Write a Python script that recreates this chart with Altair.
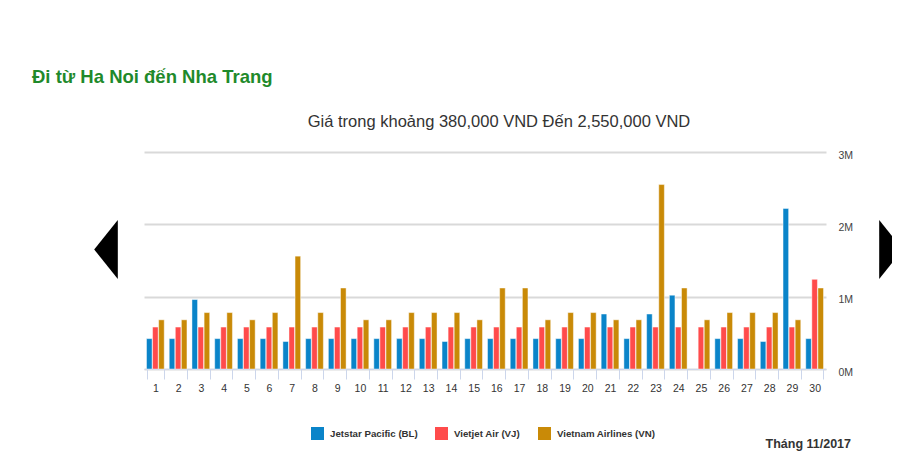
import altair as alt
import pandas as pd

# ---------------- data ----------------
days = [str(i) for i in range(1, 31)]
airlines = ["Jetstar Pacific (BL)", "Vietjet Air (VJ)", "Vietnam Airlines (VN)"]
colors = ["#0a84c9", "#ff4b4b", "#c98a07"]

jetstar = [420000, 420000, 960000, 420000, 420000, 420000, 380000, 420000, 420000, 420000,
           420000, 420000, 420000, 380000, 420000, 420000, 420000, 420000, 420000, 420000,
           760000, 420000, 760000, 1020000, None, 420000, 420000, 380000, 2220000, 420000]
vietjet = [580000] * 29 + [1240000]
vietnam = [680000, 680000, 780000, 780000, 680000, 780000, 1560000, 780000, 1120000, 680000,
           680000, 780000, 780000, 780000, 680000, 1120000, 1120000, 680000, 780000, 780000,
           680000, 680000, 2550000, 1120000, 680000, 780000, 780000, 780000, 680000, 1120000]

y_ticks = [0, 1000000, 2000000, 3000000]

title_text = "Đi từ Ha Noi đến Nha Trang"
subtitle_text = "Giá trong khoảng 380,000 VND Đến 2,550,000 VND"
month_text = "Tháng 11/2017"

rows = []
for series, name in zip([jetstar, vietjet, vietnam], airlines):
    for d, v in zip(days, series):
        if v is not None:
            rows.append({"day": d, "airline": name, "price": v})
df = pd.DataFrame(rows)

FONT = "Liberation Sans, Arial, sans-serif"

bars = alt.Chart(df).mark_bar(stroke="white", strokeWidth=1, strokeOpacity=0.45).encode(
    x=alt.X("day:N", sort=days,
            scale=alt.Scale(paddingInner=0.22, paddingOuter=0.11),
            axis=alt.Axis(title=None, labelAngle=0, tickBand="extent", grid=False,
                          domainColor="#ccd6eb", tickColor="#ccd6eb", tickSize=10,
                          labelPadding=4, labelFontSize=10.5, labelColor="#333333",
                          labelFont=FONT)),
    xOffset=alt.XOffset("airline:N", sort=airlines, scale=alt.Scale(paddingInner=0.08)),
    y=alt.Y("price:Q", scale=alt.Scale(domain=[0, 3000000]),
            axis=alt.Axis(title=None, orient="right", values=y_ticks,
                          labelExpr="datum.value / 1000000 + 'M'",
                          domain=False, ticks=False, grid=True,
                          gridColor="#d9d9d9", gridWidth=2,
                          labelPadding=12, labelFontSize=10.5, labelColor="#444444",
                          labelFont=FONT, labelOffset=3)),
    color=alt.Color("airline:N",
                    scale=alt.Scale(domain=airlines, range=colors),
                    legend=alt.Legend(title=None, orient="none", direction="horizontal",
                                      legendX=167, legendY=275,
                                      symbolType="square", symbolSize=169,
                                      symbolStrokeWidth=0, symbolOpacity=1,
                                      labelFont=FONT, labelFontSize=9.7,
                                      labelFontWeight="bold", labelColor="#333333",
                                      labelOffset=6, columnPadding=17)),
)

title = alt.Chart(pd.DataFrame({"t": [title_text]})).mark_text(
    align="left", baseline="middle", font=FONT, fontSize=18.5, fontWeight="bold",
    color="#1f8a2b").encode(text="t:N", x=alt.value(-112), y=alt.value(-75))

subtitle = alt.Chart(pd.DataFrame({"t": [subtitle_text]})).mark_text(
    align="center", baseline="middle", font=FONT, fontSize=16.5,
    color="#333333").encode(text="t:N", x=alt.value(355), y=alt.value(-30))

month = alt.Chart(pd.DataFrame({"t": [month_text]})).mark_text(
    align="right", baseline="middle", font=FONT, fontSize=12.5, fontWeight="bold",
    color="#333333").encode(text="t:N", x=alt.value(707), y=alt.value(292))

left_arrow = alt.Chart(pd.DataFrame({"a": [0]})).mark_point(
    shape="M0.4,-1L0.4,1L-0.4,0Z", size=3481, filled=True, color="black",
    opacity=1, strokeWidth=0).encode(x=alt.value(-38), y=alt.value(97.5))

right_arrow = alt.Chart(pd.DataFrame({"a": [0]})).mark_point(
    shape="M-0.4,-1L-0.4,1L0.4,0Z", size=3481, filled=True, color="black",
    opacity=1, strokeWidth=0).encode(x=alt.value(747), y=alt.value(97.5))

chart = alt.layer(bars, title, subtitle, month, left_arrow, right_arrow).properties(
    width=682, height=217,
    padding={"left": 136, "top": 144, "right": 66, "bottom": 94},
    autosize=alt.AutoSizeParams(type="none"),
    background="white",
).configure_view(stroke=None)

chart.save("out.html", embed_options={"renderer": "svg", "actions": False})
